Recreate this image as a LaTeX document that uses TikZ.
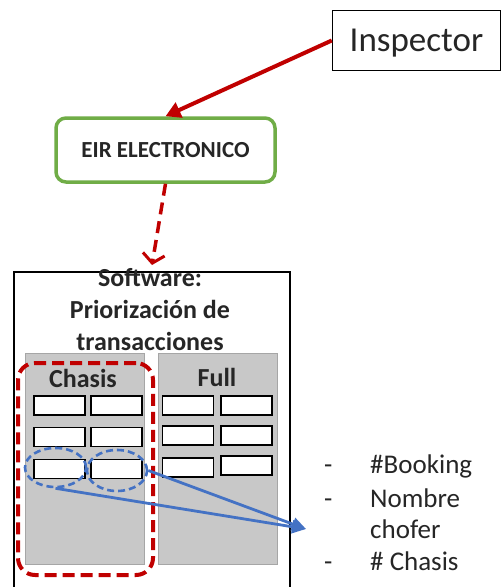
\documentclass[tikz,border=0pt]{standalone}
\usepackage{fontspec}
\setmainfont{Carlito}
\usetikzlibrary{arrows.meta,shapes.geometric}
\definecolor{redline}{HTML}{C00000}
\definecolor{greenbox}{HTML}{70AD47}
\definecolor{bluel}{HTML}{4472C4}
\definecolor{panelfill}{HTML}{C8C8C8}
\definecolor{panelborder}{HTML}{A6A6A6}
\definecolor{txt}{HTML}{262626}
\begin{document}
\begin{tikzpicture}[x=1pt,y=-1pt,
  plainbox/.style={draw=black, line width=1.5pt, fill=white, inner sep=0pt},
  cell/.style={draw=black, line width=1.4pt, fill=white, minimum width=51pt, minimum height=19pt, inner sep=0pt},
  panel/.style={fill=panelfill, draw=panelborder, line width=1pt, minimum width=119pt, minimum height=211pt, anchor=north west, inner sep=0pt},
  sel/.style={draw=bluel, line width=2.6pt, dash pattern=on 7pt off 4pt, ellipse},
  bluearrow/.style={draw=bluel, line width=2.8pt, -{Triangle[length=14pt,width=13pt]}},
  titletext/.style={anchor=base, font=\fontsize{26}{30}\selectfont\bfseries, text=txt, inner sep=0pt},
  listtext/.style={anchor=base west, font=\fontsize{27}{32}\selectfont, text=txt, inner sep=0pt}
]
\useasboundingbox (0,0) rectangle (502,587);
\clip (0,0) rectangle (502,587);
\fill[white] (0,0) rectangle (502,587);

% Inspector box
\node[plainbox, minimum width=168pt, minimum height=60pt, text height=22.5pt, text depth=0pt,
      font=\fontsize{35}{40}\selectfont, text=txt] (insp) at (416.5,40.5) {Inspector};

% EIR box
\node[draw=greenbox, line width=3.5pt, rounded corners=10pt, fill=white,
      minimum width=219pt, minimum height=64pt, text height=14.8pt, text depth=0pt,
      font=\fontsize{23}{26}\selectfont\bfseries, text=txt, inner sep=0pt] (eir) at (165.5,150) {EIR ELECTRONICO};

% red solid arrow
\draw[redline, line width=4pt, -{Triangle[length=15pt,width=16pt]}] (insp.west) -- (eir.north);

% dashed red arrow
\coordinate (swtop) at (152,265);
\draw[redline, line width=3.5pt, dash pattern=on 12pt off 7pt,
      -{Straight Barb[length=9pt,width=22pt,line width=3pt]}] (eir.south) -- (swtop);

% Software box
\node[draw=black, line width=1.5pt, minimum width=276pt, minimum height=340pt, anchor=north west, inner sep=0pt] (sw) at (13,271) {};

% panels
\node[panel] (chp) at (25,353) {};
\node[panel] (fup) at (158,353) {};

% cells chasis
\node[cell] (c11) at (59.5,405.5) {};
\node[cell] (c12) at (116.5,405.5) {};
\node[cell] (c21) at (59.5,437) {};
\node[cell] (c22) at (116.5,437) {};
\node[cell] (c31) at (59.5,469) {};
\node[cell] (c32) at (116.5,469) {};
% cells full
\node[cell] (f11) at (188,405.5) {};
\node[cell] (f12) at (246.5,405.5) {};
\node[cell] (f21) at (188,435.5) {};
\node[cell] (f22) at (246.5,435.5) {};
\node[cell] (f31) at (188,467.5) {};
\node[cell] (f32) at (246.5,465.5) {};

% titles
\node[titletext] at (150,286) {Software:};
\node[titletext] at (150,318) {Priorización de};
\node[titletext] at (150,350) {transacciones};
\node[titletext] at (83,387) {Chasis};
\node[titletext] at (217,386) {Full};

% red dashed selection
\node[draw=redline, line width=4pt, dash pattern=on 12pt off 6pt, rounded corners=17pt,
      minimum width=135pt, minimum height=212pt, anchor=north west, inner sep=0pt] (chsel) at (16,361) {};

% blue ellipses
\node[sel, minimum width=61pt, minimum height=39pt, inner sep=0pt] (e1) at (55.5,467.5) {};
\node[sel, minimum width=60pt, minimum height=41pt, inner sep=0pt] (e2) at (117,470.5) {};

% blue arrows
\coordinate (listpt) at (306,529);
\draw[bluearrow] (e1.south) -- (listpt);
\draw[bluearrow] (e2.east) -- (listpt);

% list
\node[listtext] (d1) at (324,473) {-};
\node[listtext] (l1) at (370,473) {\#Booking};
\node[listtext] (d2) at (324,507) {-};
\node[listtext] (l2) at (370,507) {Nombre};
\node[listtext] (l3) at (370,538) {chofer};
\node[listtext] (d4) at (324,570) {-};
\node[listtext] (l4) at (370,570) {\# Chasis};
\end{tikzpicture}
\end{document}
